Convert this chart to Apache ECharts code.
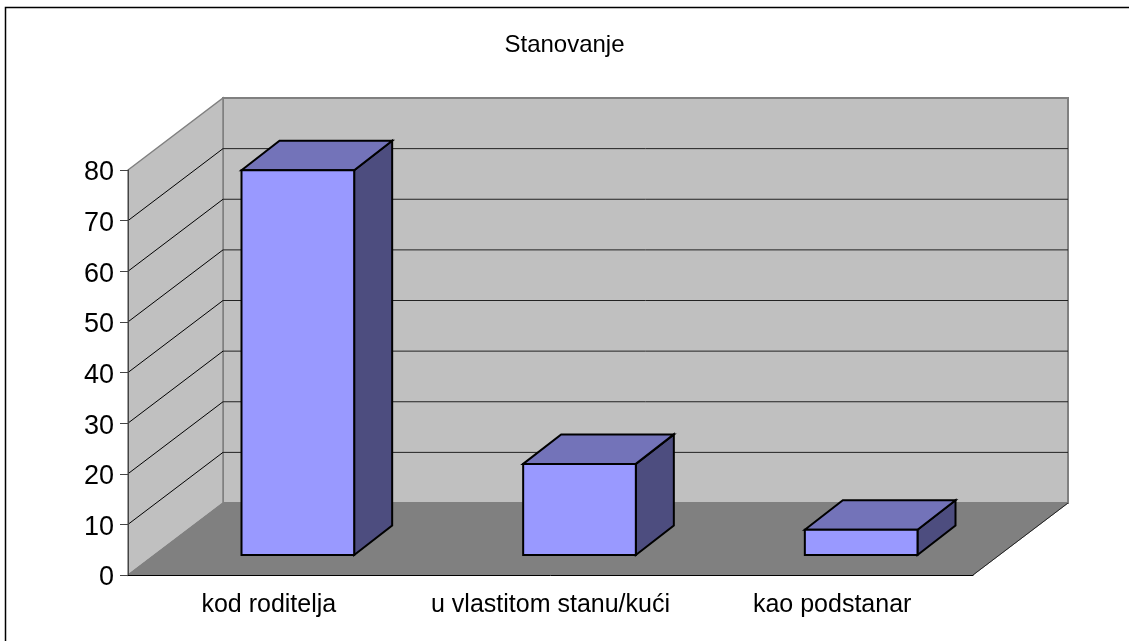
<!DOCTYPE html>
<html>
<head>
<meta charset="utf-8">
<style>
  html, body { margin: 0; padding: 0; background: #fff; }
  #chart { width: 1129px; height: 641px; }
</style>
<script src="https://cdn.jsdelivr.net/npm/echarts@6/dist/echarts.min.js"></script>
</head>
<body>
<div id="chart"></div>
<script>
// data
var categories = ["kod roditelja", "u vlastitom stanu/kući", "kao podstanar"];
var values = [76, 18, 5];
var yTicks = [0, 10, 20, 30, 40, 50, 60, 70, 80];

// fake 3d: how far the back wall and the bars are shifted, in pixels
var wallDx = 95, wallDy = -72;
var barOffX = 29, barOffY = -20;
var barDx = 38, barDy = -29.5;
var barRatio = 0.4;

var font = "Liberation Sans";

function poly(points, fill, stroke, width) {
  return {
    type: "polygon",
    shape: { points: points },
    style: { fill: fill, stroke: stroke, lineWidth: width, lineJoin: "miter" },
  };
}

function seg(x1, y1, x2, y2, color, width) {
  return {
    type: "line",
    shape: { x1: x1, y1: y1, x2: x2, y2: y2 },
    style: { stroke: color, lineWidth: width },
  };
}

// side wall, back wall, floor and their grid lines
function renderWalls(params, api) {
  var c = params.coordSys;
  var l = c.x, r = c.x + c.width, t = c.y, b = c.y + c.height;
  var kids = [
    poly([[l + wallDx, t + wallDy], [r + wallDx, t + wallDy], [r + wallDx, b + wallDy], [l + wallDx, b + wallDy]], "#c0c0c0", "#808080", 2),
    poly([[l, t], [l + wallDx, t + wallDy], [l + wallDx, b + wallDy], [l, b]], "#c0c0c0", "#808080", 1.5),
    poly([[l, b], [r, b], [r + wallDx, b + wallDy], [l + wallDx, b + wallDy]], "#808080", "#808080", 1),
    seg(r, b, r + wallDx, b + wallDy, "#222", 1),
  ];
  yTicks.forEach(function (v) {
    if (v === 0 || v === 80) return;
    var y = api.coord([0, v])[1];
    kids.push(seg(l, y, l + wallDx, y + wallDy, "#000", 1));
    kids.push(seg(l + wallDx, y + wallDy, r + wallDx, y + wallDy, "#222", 1));
  });
  return { type: "group", children: kids };
}

function renderBar(params, api) {
  var top = api.coord([api.value(0), api.value(1)]);
  var base = api.coord([api.value(0), 0]);
  var w = api.size([1, 0])[0] * barRatio;
  var x1 = top[0] - w / 2 + barOffX, x2 = x1 + w;
  var yT = top[1] + barOffY, yB = base[1] + barOffY;
  return {
    type: "group",
    children: [
      poly([[x2, yT], [x2 + barDx, yT + barDy], [x2 + barDx, yB + barDy], [x2, yB]], "#4d4d7f", "#000", 2),
      poly([[x1, yT], [x1 + barDx, yT + barDy], [x2 + barDx, yT + barDy], [x2, yT]], "#7373b9", "#000", 2),
      poly([[x1, yT], [x2, yT], [x2, yB], [x1, yB]], "#9999ff", "#000", 2),
    ],
  };
}

var chart = echarts.init(document.getElementById("chart"));
chart.setOption({
  animation: false,
  backgroundColor: "#fff",
  title: {
    text: "Stanovanje",
    left: "center",
    top: 28,
    textStyle: { fontFamily: font, fontSize: 24, fontWeight: "normal", color: "#000" },
  },
  grid: { left: 128, right: 156, top: 170, bottom: 66 },
  xAxis: {
    type: "category",
    data: categories,
    z: 5,
    axisLine: { lineStyle: { color: "#000", width: 1 } },
    axisTick: { length: 8, lineStyle: { color: "#555" } },
    axisLabel: { interval: 0, margin: 18, fontFamily: font, fontSize: 25, color: "#000" },
  },
  yAxis: {
    type: "value",
    min: 0,
    max: 80,
    interval: 10,
    z: 5,
    axisLine: { show: true, lineStyle: { color: "#444", width: 1 } },
    axisTick: { show: true, length: 8, lineStyle: { color: "#444" } },
    axisLabel: { margin: 14, verticalAlign: "top", lineHeight: 6, fontFamily: font, fontSize: 27, color: "#000" },
    splitLine: { show: false },
  },
  graphic: [
    {
      type: "polyline",
      silent: true,
      shape: { points: [[5.5, 641], [5.5, 7.5], [1129, 7.5]] },
      style: { stroke: "#000", lineWidth: 1.5, fill: "none" },
    },
  ],
  series: [
    { type: "custom", silent: true, z: 1, data: [[0, 0]], renderItem: renderWalls },
    {
      type: "custom",
      silent: true,
      z: 2,
      data: values.map(function (v, i) { return [i, v]; }),
      encode: { x: 0, y: 1 },
      renderItem: renderBar,
    },
  ],
});
</script>
</body>
</html>
